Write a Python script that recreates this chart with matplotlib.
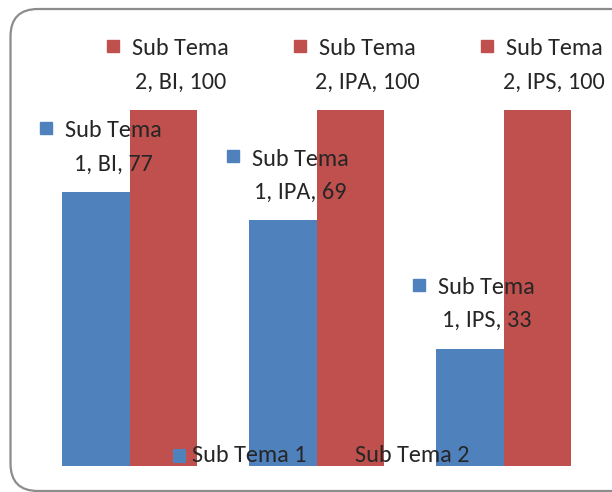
import matplotlib
matplotlib.use("Agg")
import matplotlib.pyplot as plt
from matplotlib.patches import FancyBboxPatch, Rectangle
from matplotlib.transforms import offset_copy
from matplotlib import font_manager

categories = ["BI", "IPA", "IPS"]
series_names = ["Sub Tema 1", "Sub Tema 2"]
sub_tema_1 = [77, 69, 33]
sub_tema_2 = [100, 100, 100]

BLUE = "#4F81BD"
RED = "#C0504D"
TXT = "#262626"

avail = {f.name for f in font_manager.fontManager.ttflist}
fam = "Lato"
for cand in ["Carlito", "Liberation Sans Narrow", "Roboto Condensed", "Lato"]:
    if cand in avail:
        fam = cand
        break
plt.rcParams["font.family"] = [fam, "DejaVu Sans"]

W, H = 612, 492
fig = plt.figure(figsize=(W / 100, H / 100), dpi=100)

# measure text width to match reference ("Sub Tema" ~97 px wide)
probe = fig.text(0, 0, "Sub Tema", fontsize=20)
fig.canvas.draw()
pw = probe.get_window_extent().width
probe.remove()
fs = 20 * 97 / pw

# rounded frame
frame = FancyBboxPatch((10.5 / W, 1 / H), (640 - 10.5) / W, (483 - 1) / H,
                       boxstyle="round,pad=0,rounding_size=0.045",
                       transform=fig.transFigure, facecolor="white",
                       edgecolor="#8c8c8c", linewidth=1.6, mutation_aspect=W / H,
                       zorder=-5)
fig.patches.append(frame)

ax = fig.add_axes([36.5 / W, (H - 466) / H, 560.5 / W, 356 / H])
ax.set_xlim(-0.5, 2.5)
ax.set_ylim(0, 100)
ax.axis("off")
ax.patch.set_alpha(0)
ax.set_zorder(1)

bw = 67.5 / 187
xs = range(len(categories))
series = [sub_tema_1, sub_tema_2]
colors = [BLUE, RED]
for si, (vals, col) in enumerate(zip(series, colors)):
    off = (si - 0.5) * bw
    ax.bar([x + off for x in xs], vals, width=bw, color=col, zorder=2)
    for x, v, cat in zip(xs, vals, categories):
        bx = x + off
        num = series_names[si].split()[-1]
        t2 = offset_copy(ax.transData, fig=fig, x=17, y=28, units="dots")
        ax.text(bx, v, f"{num}, {cat}, {v}", transform=t2, ha="center", va="center",
                fontsize=fs, color=TXT, zorder=5, clip_on=False)
        t1 = offset_copy(ax.transData, fig=fig, x=17, y=61, units="dots")
        ax.text(bx, v, "Sub Tema", transform=t1, ha="center", va="center",
                fontsize=fs, color=TXT, zorder=5, clip_on=False)
        tk = offset_copy(ax.transData, fig=fig, x=17 - 67.5, y=64, units="dots")
        ax.plot([bx], [v], transform=tk, marker="s", markersize=8.6,
                color=col, linestyle="none", zorder=5, clip_on=False)

# legend (drawn over bars)
for name, col, kx, tx in [(series_names[0], BLUE, 173, 192), (series_names[1], RED, 337, 355)]:
    fig.patches.append(Rectangle((kx / W, (H - 463) / H), 13 / W, 14 / H,
                                 transform=fig.transFigure, facecolor=col,
                                 edgecolor="none", zorder=10))
    fig.text(tx / W, (H - 455) / H, name, ha="left", va="center",
             fontsize=fs, color=TXT, zorder=10)

fig.savefig("out.png", dpi=100)
